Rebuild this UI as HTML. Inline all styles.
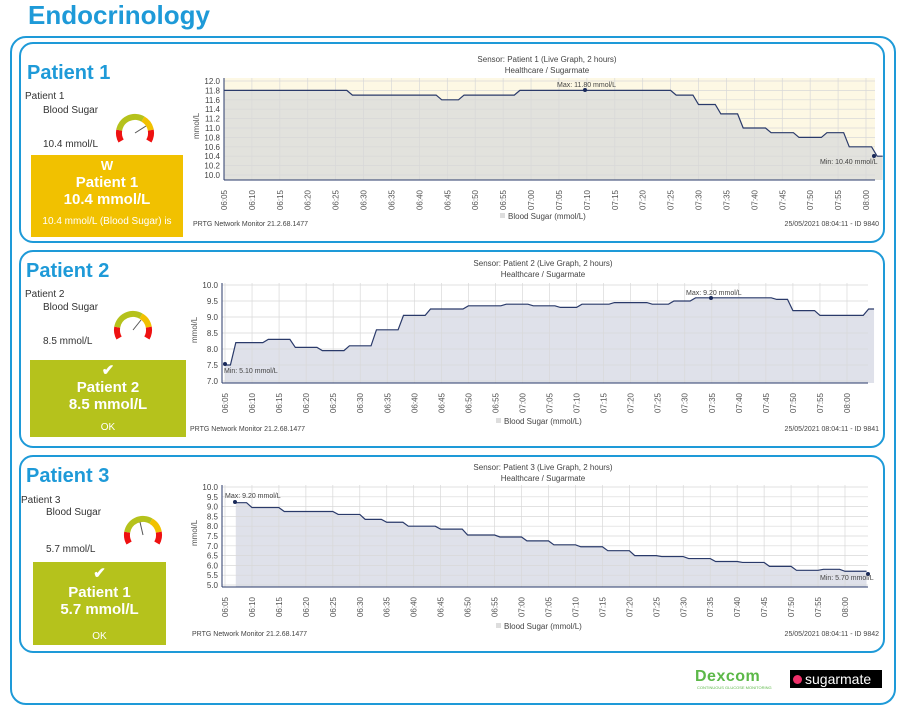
<!DOCTYPE html>
<html><head><meta charset="utf-8"><style>
body{margin:0;width:904px;height:710px;background:#fff;font-family:"Liberation Sans",sans-serif;position:relative;overflow:hidden}
.a{position:absolute}
.h{color:#1e9ad8;font-weight:bold}
.panel{position:absolute;border:2px solid #1e9ad8;border-radius:14px}
.box{position:absolute;color:#fff;text-align:center;font-weight:bold;line-height:17px}
.sm{font-size:10px;color:#333}
</style></head><body>
<div class="a h" style="left:28px;top:0px;font-size:26px">Endocrinology</div>
<div class="panel" style="left:10px;top:36px;width:882px;height:665px;border-radius:16px"></div>
<div class="panel" style="left:19px;top:42px;width:862px;height:197px"></div>
<div class="panel" style="left:19px;top:250px;width:862px;height:194px"></div>
<div class="panel" style="left:19px;top:455px;width:862px;height:194px"></div>

<div class="a h" style="left:27px;top:62px;font-size:20px">Patient 1</div>
<div class="a sm" style="left:25px;top:91px">Patient 1</div>
<div class="a sm" style="left:43px;top:105px">Blood Sugar</div>
<div class="a sm" style="left:43px;top:139px">10.4 mmol/L</div>
<div class="box" style="left:31px;top:155px;width:152px;height:82px;background:#f1c100">
<div style="font-size:13px;margin-top:2px">W</div><div style="font-size:15px">Patient 1</div><div style="font-size:15px">10.4 mmol/L</div><div style="font-size:10px;font-weight:normal;margin-top:5px;white-space:nowrap;overflow:hidden">10.4 mmol/L (Blood Sugar) is</div></div>

<div class="a h" style="left:26px;top:260px;font-size:20px">Patient 2</div>
<div class="a sm" style="left:25px;top:289px">Patient 2</div>
<div class="a sm" style="left:43px;top:302px">Blood Sugar</div>
<div class="a sm" style="left:43px;top:336px">8.5 mmol/L</div>
<div class="box" style="left:30px;top:360px;width:156px;height:77px;background:#b5c21c">
<div style="font-size:15px;margin-top:2px">✔</div><div style="font-size:15px">Patient 2</div><div style="font-size:15px">8.5 mmol/L</div><div style="font-size:10px;font-weight:normal;margin-top:6px">OK</div></div>

<div class="a h" style="left:26px;top:465px;font-size:20px">Patient 3</div>
<div class="a sm" style="left:21px;top:495px">Patient 3</div>
<div class="a sm" style="left:46px;top:507px">Blood Sugar</div>
<div class="a sm" style="left:46px;top:544px">5.7 mmol/L</div>
<div class="box" style="left:33px;top:562px;width:133px;height:83px;background:#b5c21c">
<div style="font-size:15px;margin-top:3px">✔</div><div style="font-size:15px;margin-top:2px">Patient 1</div><div style="font-size:15px">5.7 mmol/L</div><div style="font-size:10px;font-weight:normal;margin-top:10px">OK</div></div>

<div class="a" style="left:695px;top:668px;color:#5cb848;font-weight:bold;font-size:16px;letter-spacing:0.5px">Dexcom</div>
<div class="a" style="left:697px;top:685px;color:#5cb848;font-size:4px">CONTINUOUS GLUCOSE MONITORING</div>
<div class="a" style="left:790px;top:670px;width:92px;height:18px;background:#000;color:#fff;font-size:14px;line-height:18px"><span style="display:inline-block;width:9px;height:9px;border-radius:50%;background:#f0306a;margin:0 3px 0 3px"></span>sugarmate</div>

<svg id="s" class="a" style="left:0;top:0" width="904" height="710"></svg>
<script>
var S=document.getElementById('s'),o='';
function t(x,y,s,a,sz,c,r){o+='<text x="'+x+'" y="'+y+'" font-size="'+(sz||8)+'" fill="'+(c||'#444')+'" text-anchor="'+(a||'start')+'"'+(r?' transform="rotate(-90 '+x+' '+y+')"':'')+'>'+s+'</text>';}
function gauge(cx,cy){var r=16;
function arc(a0,a1,c){var p=function(a){a=a*Math.PI/180;return[(cx+r*Math.cos(a)).toFixed(1),(cy+r*Math.sin(a)).toFixed(1)]};var A=p(a0),B=p(a1);o+='<path d="M'+A+' A'+r+' '+r+' 0 0 1 '+B+'" stroke="'+c+'" stroke-width="6" fill="none"/>';}
arc(150,190,'#e11');arc(190,300,'#b5c21c');arc(300,350,'#f1c100');arc(350,30,'#e11');}
gauge(135,133);gauge(133,330);gauge(143,535);
o+='<line x1="135" y1="133" x2="146" y2="126" stroke="#555"/><line x1="133" y1="330" x2="141" y2="320" stroke="#555"/><line x1="143" y1="535" x2="140" y2="522" stroke="#555"/>';
function chart(c){var x0=c.x0,x1=c.x1,y0=c.yt,y1=c.yb;
var X=function(m){return c.t0+(m)*(c.t1-c.t0)/115},Y=function(v){return c.p0+(c.vmax-v)*(c.p1-c.p0)/(c.vmax-c.vmin)};
o+='<rect x="'+x0+'" y="'+y0+'" width="'+(x1-x0)+'" height="'+(y1-y0)+'" fill="'+c.bg+'"/>';
var d='M'+X(c.d[0][0])+' '+y1,pl='';
c.d.forEach(function(p,i){var s=X(p[0])+' '+Y(p[1]);d+=' L'+s;pl+=(i?' L':'M')+s;});
d+=' L'+X(c.d[c.d.length-1][0])+' '+y1+'Z';
o+='<path d="'+d+'" fill="'+c.fill+'"/>';
for(var i=0;i<24;i++){var x=X(i*5);o+='<line x1="'+x+'" y1="'+y0+'" x2="'+x+'" y2="'+y1+'" stroke="#d8d8d8" stroke-width="0.7"/>';
var h=6+Math.floor((5+i*5)/60),m=(5+i*5)%60;t(x+3,y1+20,'0'+h+':'+(m<10?'0':'')+m,'middle',8,'#555',1);}
for(var v=c.vmin;v<=c.vmax+1e-6;v+=c.st){var y=Y(v);o+='<line x1="'+x0+'" y1="'+y+'" x2="'+x1+'" y2="'+y+'" stroke="#d8d8d8" stroke-width="0.7"/>';t(x0-4,y+3,v.toFixed(1),'end',8,'#444');}
o+='<path d="'+pl+'" stroke="#2a3a6a" stroke-width="1.2" fill="none"/>';
o+='<line x1="'+x0+'" y1="'+y0+'" x2="'+x0+'" y2="'+y1+'" stroke="#2a3a6a"/><line x1="'+x0+'" y1="'+y1+'" x2="'+x1+'" y2="'+y1+'" stroke="#2a3a6a"/>';
t(x0-25,(y0+y1)/2+10,'mmol/L','start',8,'#555',1);
var cx=c.tc;t(cx,c.ty,c.title,'middle',8,'#444');t(cx,c.ty+11,'Healthcare / Sugarmate','middle',8,'#444');
o+='<rect x="'+(cx-47)+'" y="'+(c.ly-6)+'" width="5" height="5" fill="#ddd"/>';t(cx-39,c.ly,'Blood Sugar (mmol/L)','start',8,'#444');
t(c.fx,c.ly+7,'PRTG Network Monitor 21.2.68.1477','start',7,'#444');t(879,c.ly+7,c.id,'end',7,'#444');
c.lab.forEach(function(l){o+='<circle cx="'+l[0]+'" cy="'+l[1]+'" r="2" fill="#1a2a5a"/>';t(l[2],l[3],l[4],'start',7,'#444');});}
chart({title:'Sensor: Patient 1 (Live Graph, 2 hours)',x0:224,x1:875,yt:78,yb:180,t0:224,t1:866,p0:81,p1:175,vmin:10,vmax:12,st:0.2,bg:'#fdf8e4',fill:'#e2e2dd',tc:547,ty:62,ly:219,fx:193,id:'25/05/2021 08:04:11 - ID 9840',
d:[[0,11.8],[22,11.8],[23,11.7],[38,11.7],[39,11.6],[42,11.6],[43,11.7],[52,11.7],[53,11.8],[80,11.8],[81,11.7],[84,11.7],[85,11.5],[88,11.5],[89,11.3],[92,11.3],[93,11.0],[97,11.0],[98,10.9],[102,10.9],[103,10.8],[107,10.8],[108,10.9],[111,10.9],[112,10.6],[116,10.6],[117,10.4],[118,10.4]],
lab:[[585,90,557,87,'Max: 11.80 mmol/L'],[874,156,820,164,'Min: 10.40 mmol/L']]});
chart({title:'Sensor: Patient 2 (Live Graph, 2 hours)',x0:222,x1:868,yt:283,yb:383,t0:225,t1:847,p0:285,p1:381,vmin:7,vmax:10,st:0.5,bg:'#fff',fill:'#dfe1ea',tc:543,ty:266,ly:424,fx:190,id:'25/05/2021 08:04:11 - ID 9841',
d:[[0,7.5],[1,7.5],[2,8.2],[7,8.2],[8,8.3],[12,8.3],[13,8.05],[17,8.05],[18,7.95],[22,7.95],[23,8.1],[27,8.1],[28,8.6],[32,8.6],[33,9.05],[37,9.05],[38,9.25],[44,9.25],[45,9.35],[51,9.35],[52,9.4],[56,9.4],[57,9.35],[61,9.35],[62,9.3],[65,9.3],[66,9.4],[71,9.4],[72,9.45],[78,9.45],[79,9.4],[82,9.4],[83,9.5],[86,9.5],[87,9.6],[101,9.6],[102,9.55],[104,9.55],[105,9.2],[109,9.2],[110,9.05],[118,9.05],[119,9.25],[120,9.25]],
lab:[[225,364,224,373,'Min: 5.10 mmol/L'],[711,298,686,295,'Max: 9.20 mmol/L']]});
chart({title:'Sensor: Patient 3 (Live Graph, 2 hours)',x0:222,x1:868,yt:485,yb:587,t0:225,t1:845,p0:487,p1:585,vmin:5,vmax:10,st:0.5,bg:'#fff',fill:'#dfe1ea',tc:543,ty:470,ly:629,fx:192,id:'25/05/2021 08:04:11 - ID 9842',
d:[[2,9.2],[4,9.2],[5,8.95],[10,8.95],[11,8.75],[20,8.75],[21,8.6],[25,8.6],[26,8.35],[29,8.35],[30,8.2],[33,8.2],[34,8.0],[39,8.0],[40,7.85],[44,7.85],[45,7.55],[50,7.55],[51,7.45],[55,7.45],[56,7.25],[60,7.25],[61,7.05],[65,7.05],[66,6.95],[70,6.95],[71,6.75],[75,6.75],[76,6.5],[80,6.5],[81,6.45],[85,6.45],[86,6.35],[90,6.35],[91,6.2],[95,6.2],[96,6.15],[100,6.15],[101,5.95],[105,5.95],[106,5.75],[110,5.75],[111,5.8],[114,5.8],[115,5.7],[119,5.7]],
lab:[[235,502,225,498,'Max: 9.20 mmol/L'],[868,574,820,580,'Min: 5.70 mmol/L']]});
S.innerHTML=o;
</script>
</body></html>
